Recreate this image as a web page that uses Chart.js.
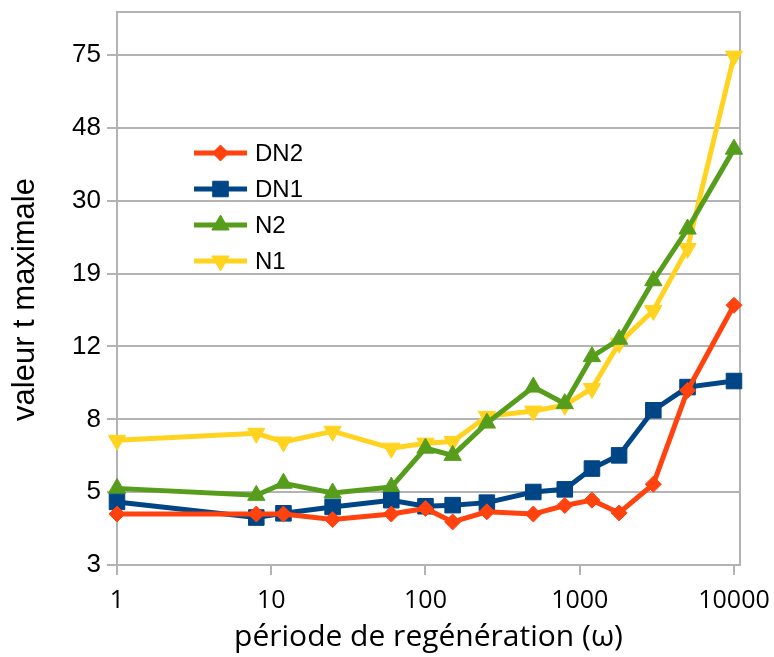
<!DOCTYPE html>
<html>
<head>
<meta charset="utf-8">
<script src="https://cdn.jsdelivr.net/npm/chart.js"></script>
<style>
    html, body { margin: 0; padding: 0; background: #ffffff; }
</style>
</head>
<body>
<canvas id="graphique" width="774" height="657"></canvas>
<script>
// periode de regeneration (axe x, log)
var periodes = [1, 8, 12, 25, 60, 100, 150, 250, 500, 800, 1200, 1800, 3000, 5000, 10000];

// valeur t maximale pour chaque serie
var dn2 = [4.14, 4.14, 4.14, 4.0, 4.14, 4.29, 3.94, 4.2, 4.14, 4.37, 4.52, 4.17, 5.0, 9.05, 15.5];
var dn1 = [4.47, 4.05, 4.16, 4.33, 4.52, 4.35, 4.38, 4.45, 4.76, 4.84, 5.52, 6.0, 7.98, 9.24, 9.6];
var n2 = [4.87, 4.66, 5.03, 4.73, 4.91, 6.28, 6.0, 7.36, 9.24, 8.32, 11.2, 12.5, 18.1, 25.1, 41.6];
var n1 = [6.6, 6.9, 6.53, 6.99, 6.28, 6.48, 6.55, 7.68, 7.94, 8.24, 9.16, 12.2, 15.0, 22.2, 74.9];

// graduations
var etiquettesX = ['1', '10', '100', '1000', '10000'];
var valeursX = [1, 10, 100, 1000, 10000];
var etiquettesY = ['3', '5', '8', '12', '19', '30', '48', '75'];
var titreY = 'valeur t maximale';

function points(serie) {
    var res = [];
    for (var i = 0; i < periodes.length; i++) {
        res.push({ x: periodes[i], y: serie[i] });
    }
    return res;
}

function serie(nom, valeurs, couleur, forme, rayon, rotation) {
    return {
        label: nom,
        data: points(valeurs),
        borderColor: couleur,
        backgroundColor: couleur,
        borderWidth: 5,
        pointStyle: forme,
        pointRadius: rayon,
        pointRotation: rotation,
        pointBorderWidth: 1,
        tension: 0,
        clip: false
    };
}

// cadre gris autour de la zone de trace + titre de l'axe y
var cadre = {
    id: 'cadre',
    beforeDatasetsDraw: function(chart) {
        var a = chart.chartArea;
        var ctx = chart.ctx;
        ctx.save();
        ctx.strokeStyle = '#b3b3b3';
        ctx.lineWidth = 2;
        ctx.strokeRect(a.left, a.top, a.right - a.left, a.bottom - a.top);
        // titre vertical, un peu plus bas que le centre
        ctx.translate(25, (a.top + a.bottom) / 2 + 11);
        ctx.rotate(-Math.PI / 2);
        ctx.fillStyle = '#000000';
        ctx.font = '31px "Liberation Sans"';
        ctx.textAlign = 'center';
        ctx.textBaseline = 'middle';
        ctx.fillText(titreY, 0, 0);
        ctx.restore();
    }
};

// legende dans la zone de trace
var legende = {
    id: 'legende',
    afterDatasetsDraw: function(chart) {
        var a = chart.chartArea;
        var ctx = chart.ctx;
        var x0 = a.left + 77;
        var y0 = a.top + 141;
        ctx.save();
        chart.data.datasets.forEach(function(ds, i) {
            var y = y0 + i * 36;
            ctx.strokeStyle = ds.borderColor;
            ctx.fillStyle = ds.backgroundColor;
            ctx.lineWidth = 5;
            ctx.beginPath();
            ctx.moveTo(x0, y);
            ctx.lineTo(x0 + 53, y);
            ctx.stroke();
            ctx.lineWidth = 1;
            Chart.helpers.drawPoint(ctx, {
                pointStyle: ds.pointStyle,
                radius: ds.pointRadius,
                rotation: ds.pointRotation,
                borderWidth: 1
            }, x0 + 26.5, y);
            ctx.fillStyle = '#000000';
            ctx.font = '24px "Liberation Sans"';
            ctx.textBaseline = 'middle';
            ctx.fillText(ds.label, x0 + 61, y + 1);
        });
        ctx.restore();
    }
};

var ctx = document.getElementById('graphique');
var chart = new Chart(ctx, {
    type: 'line',
    data: {
        datasets: [
            serie('DN2', dn2, '#ff420e', 'rectRot', 8, 0),
            serie('DN1', dn1, '#004586', 'rect', 11, 0),
            serie('N2', n2, '#579d1c', 'triangle', 10, 0),
            serie('N1', n1, '#ffd320', 'triangle', 10, 180)
        ]
    },
    options: {
        responsive: false,
        animation: false,
        devicePixelRatio: 1,
        layout: { padding: { top: 9, right: 34, left: 0, bottom: 0 } },
        plugins: {
            legend: { display: false },
            tooltip: { enabled: false }
        },
        scales: {
            x: {
                type: 'logarithmic',
                min: 1,
                max: 10940,
                afterBuildTicks: function(scale) {
                    scale.ticks = valeursX.map(function(v) { return { value: v }; });
                },
                afterFit: function(scale) {
                    scale.height = 92;
                    scale.paddingLeft = 0;
                    scale.paddingRight = 0;
                },
                ticks: {
                    autoSkip: false,
                    maxRotation: 0,
                    padding: 11,
                    color: '#000000',
                    font: { family: 'Open Sans', size: 25 },
                    callback: function(v, i) { return etiquettesX[i]; }
                },
                grid: { drawOnChartArea: false, color: '#b3b3b3', lineWidth: 2, tickLength: 10 },
                border: { display: false },
                title: {
                    display: true,
                    text: 'période de regénération (ω)',
                    color: '#000000',
                    font: { family: 'Open Sans', size: 30 },
                    padding: { top: 0, bottom: 2 }
                }
            },
            y: {
                type: 'logarithmic',
                min: 3,
                max: 99,
                afterBuildTicks: function(scale) {
                    scale.ticks = etiquettesY.map(function(t, i) { return { value: 3 * Math.pow(10, 0.2 * i) }; });
                },
                afterFit: function(scale) {
                    scale.width = 117;
                    scale.paddingTop = 0;
                    scale.paddingBottom = 0;
                },
                ticks: {
                    autoSkip: false,
                    padding: 6,
                    color: '#000000',
                    font: { family: 'Liberation Sans', size: 26 },
                    callback: function(v, i) { return etiquettesY[i]; }
                },
                grid: { color: '#b3b3b3', lineWidth: 2, tickLength: 10 },
                border: { display: false },
                title: { display: false }
            }
        }
    },
    plugins: [cadre, legende]
});
</script>
</body>
</html>
